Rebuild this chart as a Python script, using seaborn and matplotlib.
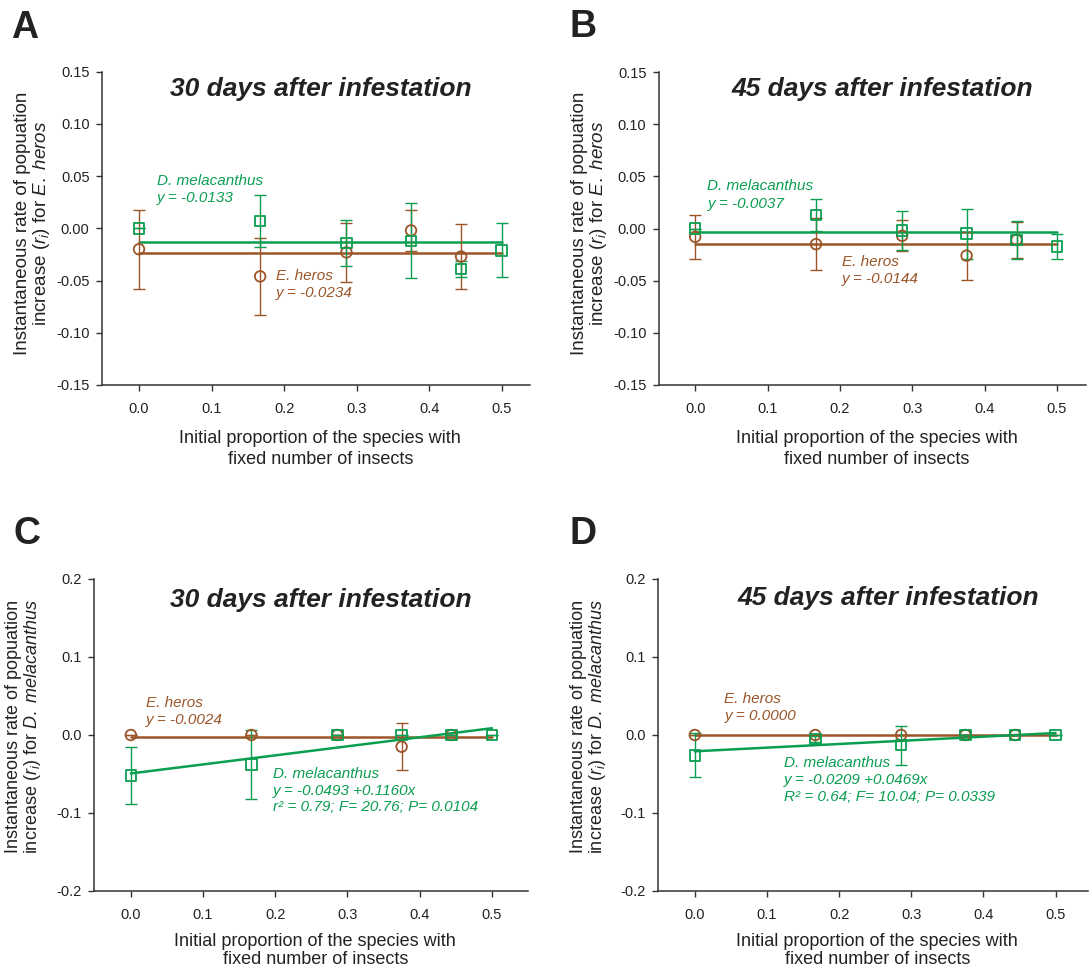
import numpy as np
import pandas as pd
import matplotlib
matplotlib.use("Agg")
import matplotlib.pyplot as plt
import seaborn as sns

# ---------------- data ----------------
prop_eh = [0.0, 0.167, 0.286, 0.375, 0.444]          # x for E. heros points
prop_dm = [0.0, 0.167, 0.286, 0.375, 0.444, 0.5]     # x for D. melacanthus points

# Panel A (r_i for E. heros, 30 days)
A_eh_y = [-0.020, -0.046, -0.023, -0.002, -0.027]
A_eh_e = [0.038, 0.037, 0.028, 0.020, 0.031]
A_dm_y = [0.000, 0.007, -0.014, -0.012, -0.039, -0.021]
A_dm_e = [0.000, 0.025, 0.022, 0.036, 0.008, 0.026]
A_fit = {"eh": (-0.0234, 0.0), "dm": (-0.0133, 0.0)}

# Panel B (r_i for E. heros, 45 days)
B_eh_y = [-0.008, -0.015, -0.007, -0.026, -0.011]
B_eh_e = [0.021, 0.025, 0.015, 0.023, 0.017]
B_dm_y = [0.000, 0.013, -0.002, -0.005, -0.011, -0.017]
B_dm_e = [0.000, 0.015, 0.019, 0.024, 0.018, 0.012]
B_fit = {"eh": (-0.0144, 0.0), "dm": (-0.0037, 0.0)}

# Panel C (r_i for D. melacanthus, 30 days)
C_eh_y = [0.000, 0.000, 0.000, -0.015, 0.000]
C_eh_e = [0.000, 0.000, 0.000, 0.030, 0.000]
C_dm_y = [-0.052, -0.038, 0.000, 0.000, 0.000, 0.000]
C_dm_e = [0.036, 0.044, 0.000, 0.000, 0.000, 0.000]
C_fit = {"eh": (-0.0024, 0.0), "dm": (-0.0493, 0.1160)}

# Panel D (r_i for D. melacanthus, 45 days)
D_eh_y = [0.000, 0.000, 0.000, 0.000, 0.000]
D_eh_e = [0.000, 0.000, 0.000, 0.000, 0.000]
D_dm_y = [-0.026, -0.005, -0.013, 0.000, 0.000, 0.000]
D_dm_e = [0.028, 0.004, 0.025, 0.000, 0.000, 0.000]
D_fit = {"eh": (0.0000, 0.0), "dm": (-0.0209, 0.0469)}

fit_x = [0.0, 0.5]

titles = ["30 days after infestation", "45 days after infestation",
          "30 days after infestation", "45 days after infestation"]
letters = ["A", "B", "C", "D"]
ylab_eh = "Instantaneous rate of popuation\nincrease ($r_i$) for $E.\\ heros$"
ylab_dm = "Instantaneous rate of popuation\nincrease ($r_i$) for $D.\\ melacanthus$"
xlab = "Initial proportion of the species with\nfixed number of insects"
xticks = [0.0, 0.1, 0.2, 0.3, 0.4, 0.5]
yticks_top = [-0.15, -0.10, -0.05, 0.00, 0.05, 0.10, 0.15]
yticks_bot = [-0.2, -0.1, 0.0, 0.1, 0.2]

ann = {
    "A": [("D. melacanthus\ny = -0.0133", "dm", 0.025, 0.052),
          ("E. heros\ny = -0.0234", "eh", 0.189, -0.039)],
    "B": [("D. melacanthus\ny = -0.0037", "dm", 0.017, 0.047),
          ("E. heros\ny = -0.0144", "eh", 0.203, -0.025)],
    "C": [("E. heros\ny = -0.0024", "eh", 0.021, 0.050),
          ("D. melacanthus\ny = -0.0493 +0.1160x\nr\u00b2 = 0.79; F= 20.76; P= 0.0104", "dm", 0.197, -0.041)],
    "D": [("E. heros\ny = 0.0000", "eh", 0.041, 0.055),
          ("D. melacanthus\ny = -0.0209 +0.0469x\nR\u00b2 = 0.64; F= 10.04; P= 0.0339", "dm", 0.123, -0.027)],
}

# ---------------- style ----------------
sns.set_theme(style="ticks")
plt.rcParams["font.family"] = ["Liberation Sans", "DejaVu Sans"]
plt.rcParams["mathtext.fontset"] = "custom"
plt.rcParams["mathtext.rm"] = "Liberation Sans"
plt.rcParams["mathtext.it"] = "Liberation Sans:italic"
plt.rcParams["axes.unicode_minus"] = False

GREEN = "#0a9e50"
BROWN = "#9b5528"
DARK = "#222222"

W, H = 1089, 967
fig = plt.figure(figsize=(W / 100, H / 100), dpi=100)

# pixel geometry: (left, right, top, bottom), xlim, ylim
geo = {
    "A": ((102, 530, 71.7, 385), (-0.051, 0.539), (-0.15, 0.15)),
    "B": ((659, 1086, 72, 385), (-0.050, 0.540), (-0.15, 0.15)),
    "C": ((94, 528, 579, 891), (-0.051, 0.550), (-0.2, 0.2)),
    "D": ((658, 1088, 579, 891), (-0.051, 0.545), (-0.2, 0.2)),
}
panels = {
    "A": (A_eh_y, A_eh_e, A_dm_y, A_dm_e, A_fit),
    "B": (B_eh_y, B_eh_e, B_dm_y, B_dm_e, B_fit),
    "C": (C_eh_y, C_eh_e, C_dm_y, C_dm_e, C_fit),
    "D": (D_eh_y, D_eh_e, D_dm_y, D_dm_e, D_fit),
}
title_x = {"A": 0.512, "B": 0.522, "C": 0.523, "D": 0.535}
title_y = {"A": 0.945, "B": 0.945, "C": 0.933, "D": 0.940}
xlab_y = {"A": -0.144, "B": -0.144, "C": -0.135, "D": -0.135}
xlab_ls = {"A": 1.3, "B": 1.3, "C": 1.06, "D": 1.06}
ylab_fs = {"A": 13.5, "B": 13.5, "C": 13, "D": 13}
ylab_y = {"A": 0.517, "B": 0.517, "C": 0.526, "D": 0.526}
ann_ls = {"A": 1.3, "B": 1.3, "C": 1.25, "D": 1.25}
letter_pos = {"A": (25, 28), "B": (583, 27), "C": (27, 534), "D": (583, 534)}

for i, key in enumerate(letters):
    (l, r, t, b), xlim, ylim = geo[key]
    ax = fig.add_axes([l / W, (H - b) / H, (r - l) / W, (b - t) / H])
    eh_y, eh_e, dm_y, dm_e, fit = panels[key]

    # fitted lines
    for sp, col in (("eh", BROWN), ("dm", GREEN)):
        a, s = fit[sp]
        fy = [a + s * xx for xx in fit_x]
        sns.lineplot(x=fit_x, y=fy, color=col, linewidth=1.8, ax=ax, zorder=2)

    # error bars
    ax.errorbar(prop_eh, eh_y, yerr=eh_e, fmt="none", ecolor=BROWN,
                elinewidth=1.0, capsize=4.5, capthick=1.0, zorder=3)
    ax.errorbar(prop_dm, dm_y, yerr=dm_e, fmt="none", ecolor=GREEN,
                elinewidth=1.0, capsize=4.5, capthick=1.0, zorder=3)

    # markers
    df_eh = pd.DataFrame({"x": prop_eh, "y": eh_y})
    df_dm = pd.DataFrame({"x": prop_dm, "y": dm_y})
    sns.scatterplot(data=df_eh, x="x", y="y", marker="o", s=58,
                    facecolor="none", edgecolor=BROWN, linewidth=1.3,
                    ax=ax, zorder=4)
    sns.scatterplot(data=df_dm, x="x", y="y", marker="s", s=58,
                    facecolor="none", edgecolor=GREEN, linewidth=1.3,
                    ax=ax, zorder=5)

    ax.set_xlim(*xlim)
    ax.set_ylim(*ylim)
    ax.set_xticks(xticks)
    ax.set_xticklabels([f"{v:.1f}" for v in xticks])
    if key in ("A", "B"):
        ax.set_yticks(yticks_top)
        ax.set_yticklabels([f"{v:.2f}" for v in yticks_top])
        ylab = ylab_eh
    else:
        ax.set_yticks(yticks_bot)
        ax.set_yticklabels([f"{v:.1f}" for v in yticks_bot])
        ylab = ylab_dm
    ax.set_ylabel(ylab, fontsize=ylab_fs[key], color=DARK, linespacing=1.0)
    ax.yaxis.set_label_coords(-0.117, ylab_y[key])
    ax.set_xlabel(xlab, fontsize=13, color=DARK, linespacing=xlab_ls[key],
                  va="top")
    ax.xaxis.set_label_coords(0.51, xlab_y[key])

    sns.despine(ax=ax)
    for sp in ("left", "bottom"):
        ax.spines[sp].set_color("#333333")
        ax.spines[sp].set_linewidth(1.1)
    ax.tick_params(axis="both", direction="out", length=4, width=1.0,
                   color="#333333", labelsize=10.5, labelcolor=DARK)
    ax.tick_params(axis="x", pad=8)
    ax.tick_params(axis="y", pad=5)

    ax.text(title_x[key], title_y[key], titles[i], transform=ax.transAxes,
            ha="center", va="center", fontsize=19, fontweight="bold",
            fontstyle="italic", color=DARK)

    for txt, sp, tx, ty in ann[key]:
        ax.text(tx, ty, txt, ha="left", va="top", fontsize=11,
                fontstyle="italic", color=GREEN if sp == "dm" else BROWN,
                linespacing=ann_ls[key], zorder=6)

    lx, ly = letter_pos[key]
    fig.text(lx / W, 1 - ly / H, key, ha="center", va="center",
             fontsize=27, fontweight="bold", color=DARK)

fig.savefig("out.png", dpi=100)
